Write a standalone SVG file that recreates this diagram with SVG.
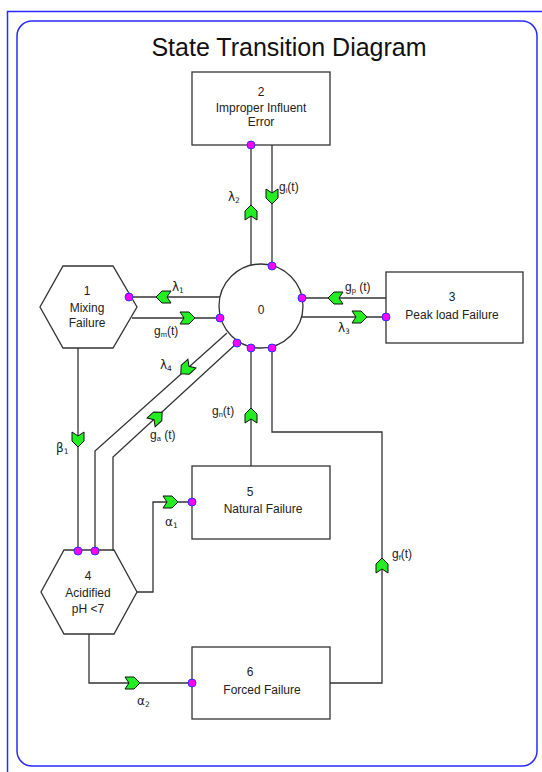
<svg xmlns="http://www.w3.org/2000/svg" xmlns:xlink="http://www.w3.org/1999/xlink" width="542" height="772" viewBox="0 0 542 772">
<style>
.frame{fill:none;stroke:#2a2aff;stroke-width:1.5}
.node{fill:#fff;stroke:#333;stroke-width:1.3}
.ln{fill:none;stroke:#333;stroke-width:1.3}
.t{font-family:"Liberation Sans",Arial,sans-serif;font-size:12px;fill:#222;text-anchor:middle}
.lb{font-family:"Liberation Sans",Arial,sans-serif;font-size:12px;fill:#222}
.gr{font-family:"DejaVu Sans","Liberation Sans",sans-serif;font-size:12px;fill:#222}
.sub{font-size:7.5px}
.dot{fill:#ff00ff;stroke:#3030ff;stroke-width:1}
.ah{fill:#22ee22;stroke:#111;stroke-width:1}
.title{font-family:"Liberation Sans",Arial,sans-serif;font-size:25px;fill:#111;text-anchor:middle}
</style>
<defs>
<path id="ah" class="ah" d="M7,0 L1,-6 L-8,-6 L-4,0 L-8,6 L1,6 Z"/>
<circle id="dt" class="dot" r="4"/>
</defs>
<path class="frame" d="M7.5,772 V11.5 H542"/>
<rect class="frame" x="17" y="21" width="520" height="745" rx="15"/>
<text class="title" x="289" y="56">State Transition Diagram</text>

<g id="node0">
<circle class="node" cx="261" cy="306" r="42" fill="none"/>
<text class="t" x="261" y="314">0</text>
</g>
<g id="node1">
<polygon class="node" points="63,266 113,266 137,307 113,348 63,348 40,307"/>
<text class="t" x="87" y="295">1</text>
<text class="t" x="87" y="312">Mixing</text>
<text class="t" x="87" y="327">Failure</text>
</g>
<g id="node2">
<rect class="node" x="192" y="72" width="138" height="73"/>
<text class="t" x="261" y="96">2</text>
<text class="t" x="261" y="112">Improper Influent</text>
<text class="t" x="261" y="126">Error</text>
</g>
<g id="node3">
<rect class="node" x="386" y="272" width="137" height="71"/>
<text class="t" x="452" y="301">3</text>
<text class="t" x="452" y="319">Peak load Failure</text>
</g>
<g id="node4">
<polygon class="node" points="64,550 114,550 137,592 114,634 64,634 41,592"/>
<text class="t" x="88" y="580">4</text>
<text class="t" x="88" y="597">Acidified</text>
<text class="t" x="88" y="613">pH &lt;7</text>
</g>
<g id="node5">
<rect class="node" x="192" y="466" width="138" height="73"/>
<text class="t" x="250" y="496">5</text>
<text class="t" x="263" y="513">Natural Failure</text>
</g>
<g id="node6">
<rect class="node" x="192" y="647" width="138" height="72"/>
<text class="t" x="250" y="676">6</text>
<text class="t" x="262" y="694">Forced Failure</text>
</g>

<g id="connectors">
<path class="ln" d="M251,265 V145"/>
<path class="ln" d="M272,145 V266"/>
<path class="ln" d="M220,297 H129"/>
<path class="ln" d="M132,318 H220"/>
<path class="ln" d="M386,298 H302"/>
<path class="ln" d="M302,317 H386"/>
<path class="ln" d="M227,333 L95,451 V551"/>
<path class="ln" d="M113,551 V457 L237,343"/>
<path class="ln" d="M78,348 V551"/>
<path class="ln" d="M251,466 V348"/>
<path class="ln" d="M137,592 H153 V502 H192"/>
<path class="ln" d="M89,634 V683 H192"/>
<path class="ln" d="M330,683 H382 V432 H272 V348"/>
<use xlink:href="#ah" transform="translate(251,212) rotate(-90)"/>
<use xlink:href="#ah" transform="translate(272,197) rotate(90)"/>
<use xlink:href="#ah" transform="translate(163,297) rotate(180)"/>
<use xlink:href="#ah" transform="translate(188,318)"/>
<use xlink:href="#ah" transform="translate(335,298) rotate(180)"/>
<use xlink:href="#ah" transform="translate(360,317)"/>
<use xlink:href="#ah" transform="translate(186,369) rotate(138)"/>
<use xlink:href="#ah" transform="translate(157,417) rotate(-42.6)"/>
<use xlink:href="#ah" transform="translate(78,440) rotate(90)"/>
<use xlink:href="#ah" transform="translate(251,415) rotate(-90)"/>
<use xlink:href="#ah" transform="translate(171,502)"/>
<use xlink:href="#ah" transform="translate(133,683)"/>
<use xlink:href="#ah" transform="translate(382,565) rotate(-90)"/>
<use xlink:href="#dt" x="251" y="145"/>
<use xlink:href="#dt" x="272" y="266"/>
<use xlink:href="#dt" x="129" y="297"/>
<use xlink:href="#dt" x="220" y="318"/>
<use xlink:href="#dt" x="302" y="298"/>
<use xlink:href="#dt" x="386" y="317"/>
<use xlink:href="#dt" x="95" y="551"/>
<use xlink:href="#dt" x="237" y="343"/>
<use xlink:href="#dt" x="78" y="551"/>
<use xlink:href="#dt" x="251" y="348"/>
<use xlink:href="#dt" x="192" y="502"/>
<use xlink:href="#dt" x="192" y="683"/>
<use xlink:href="#dt" x="272" y="348"/>
<text class="gr" x="228" y="201">λ<tspan class="sub" dy="2">2</tspan></text>
<text class="lb" x="279" y="191">g<tspan class="sub" dy="2">i</tspan><tspan dy="-2">(t)</tspan></text>
<text class="gr" x="172" y="291">λ<tspan class="sub" dy="2">1</tspan></text>
<text class="lb" x="154" y="335">g<tspan class="sub" dy="2">m</tspan><tspan dy="-2">(t)</tspan></text>
<text class="lb" x="345" y="291">g<tspan class="sub" dy="2">p</tspan><tspan dy="-2"> (t)</tspan></text>
<text class="gr" x="338" y="332">λ<tspan class="sub" dy="2">3</tspan></text>
<text class="gr" x="160" y="369">λ<tspan class="sub" dy="2">4</tspan></text>
<text class="lb" x="150" y="439">g<tspan class="sub" dy="2">a</tspan><tspan dy="-2"> (t)</tspan></text>
<text class="gr" x="56" y="452">β<tspan class="sub" dy="2">1</tspan></text>
<text class="lb" x="212" y="415">g<tspan class="sub" dy="2">n</tspan><tspan dy="-2">(t)</tspan></text>
<text class="gr" x="165" y="526">α<tspan class="sub" dy="2">1</tspan></text>
<text class="gr" x="137" y="705">α<tspan class="sub" dy="2">2</tspan></text>
<text class="lb" x="392" y="558">g<tspan class="sub" dy="2">f</tspan><tspan dy="-2">(t)</tspan></text>
</g>
</svg>
